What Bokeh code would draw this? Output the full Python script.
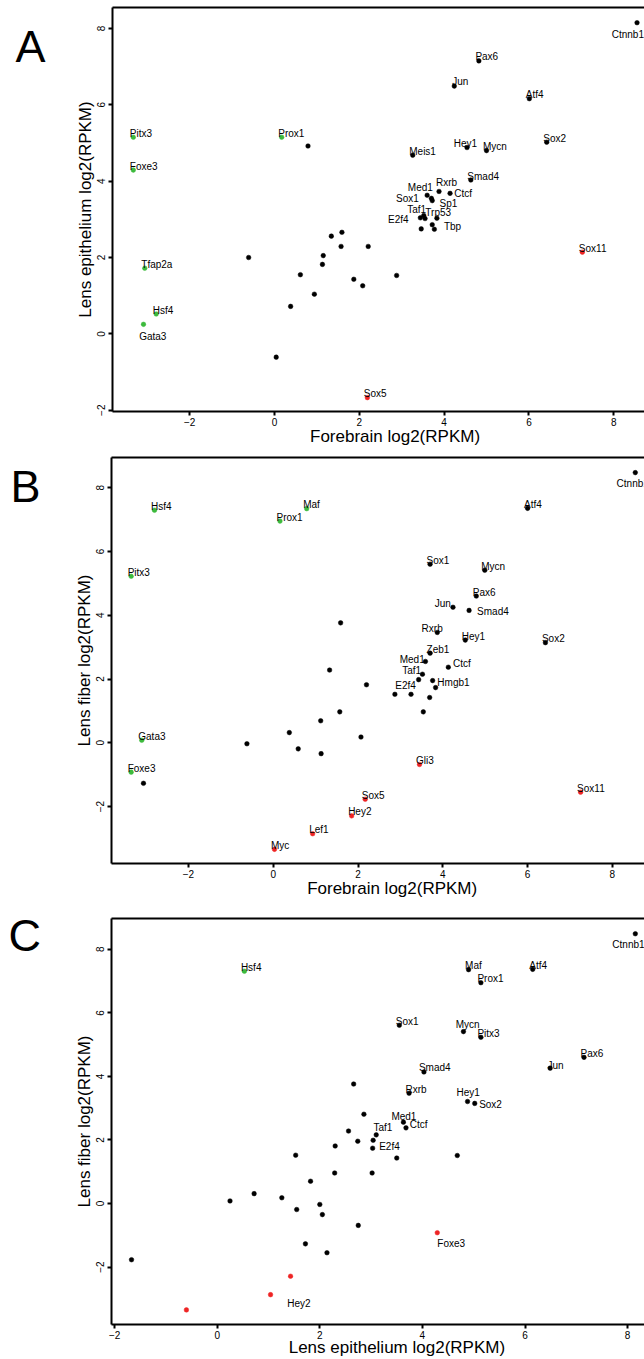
from bokeh.plotting import figure
from bokeh.models import Range1d, LinearAxis, FixedTicker, ColumnDataSource, Grid
from bokeh.layouts import column, row
from bokeh.embed import file_html
from bokeh.resources import INLINE
from bokeh.core.properties import value

# ---------------- data ----------------
# Panel A: Forebrain (x) vs Lens epithelium (y)
A_genes = ["Pitx3", "Foxe3", "Prox1", "Tfap2a", "Hsf4", "Gata3",
           "Sox11", "Sox5",
           "Ctnnb1", "Pax6", "Jun", "Atf4", "Sox2", "Hey1", "Mycn", "Meis1", "Smad4",
           "Rxrb", "Ctcf", "Med1", "Sox1", "Sp1", "Taf1", "E2f4", "Trp53", "Tbp",
           "", "", "", "", "", "", "", "", "", "", "", "", "", "", "", "", "", ""]
A_forebrain = [-3.33, -3.33, 0.17, -3.06, -2.79, -3.09,
               7.26, 2.19,
               8.55, 4.82, 4.24, 6.01, 6.42, 4.54, 5.00, 3.26, 4.63,
               3.88, 4.14, 3.60, 3.70, 3.72, 3.52, 3.44, 3.55, 3.83,
               0.79, -0.61, 1.15, 1.13, 0.61, 0.94, 0.38, 0.04, 1.34, 1.59, 1.57, 2.21,
               1.87, 2.08, 2.88, 3.72, 3.77, 3.46]
A_epithelium = [5.15, 4.29, 5.15, 1.72, 0.52, 0.25,
                2.14, -1.67,
                8.15, 7.15, 6.49, 6.16, 5.02, 4.88, 4.80, 4.68, 4.03,
                3.73, 3.68, 3.63, 3.55, 3.49, 3.10, 3.04, 3.02, 3.03,
                4.92, 2.00, 2.05, 1.82, 1.55, 1.04, 0.72, -0.61, 2.56, 2.66, 2.29, 2.29,
                1.43, 1.26, 1.53, 2.86, 2.74, 2.75]
A_group = ["lens"] * 6 + ["other"] * 2 + ["none"] * 36

# Panel B: Forebrain (x) vs Lens fiber (y)
B_genes = ["Hsf4", "Prox1", "Maf", "Pitx3", "Gata3", "Foxe3",
           "Myc", "Lef1", "Gli3", "Sox5", "Hey2", "Sox11",
           "Ctnnb1", "Atf4", "Sox1", "Mycn", "Pax6", "Jun", "Smad4", "Rxrb", "Hey1",
           "Sox2", "Zeb1", "Med1", "Ctcf", "Taf1", "E2f4", "Hmgb1",
           "", "", "", "", "", "", "", "", "", "", "", "", "", "", "", ""]
B_forebrain = [-2.80, 0.16, 0.79, -3.35, -3.10, -3.35,
               0.03, 0.93, 3.45, 2.17, 1.85, 7.25,
               8.54, 6.00, 3.70, 4.99, 4.79, 4.24, 4.62, 3.87, 4.53,
               6.42, 3.70, 3.59, 4.13, 3.52, 3.43, 3.76,
               -3.06, -0.62, 0.38, 0.59, 1.12, 1.13, 1.33, 2.20, 2.87, 3.25, 3.69, 3.54,
               1.57, 2.07, 3.83, 1.59]
B_fiber = [7.29, 6.95, 7.34, 5.22, 0.08, -0.92,
           -3.34, -2.85, -0.68, -1.77, -2.29, -1.55,
           8.47, 7.35, 5.60, 5.41, 4.60, 4.25, 4.15, 3.46, 3.22,
           3.14, 2.81, 2.55, 2.37, 2.15, 1.98, 1.95,
           -1.27, -0.03, 0.32, -0.19, 0.69, -0.34, 2.28, 1.82, 1.52, 1.52, 1.42, 0.97,
           0.97, 0.18, 1.73, 3.76]
B_group = ["lens"] * 6 + ["other"] * 6 + ["none"] * 32

# Panel C: Lens epithelium (x) vs Lens fiber (y)
C_genes = ["Hsf4",
           "Foxe3", "Hey2", "", "",
           "Ctnnb1", "Maf", "Atf4", "Prox1", "Sox1", "Mycn", "Pitx3", "Pax6", "Jun",
           "Smad4", "Rxrb", "Hey1", "Sox2", "Med1", "Ctcf", "Taf1", "E2f4",
           "", "", "", "", "", "", "", "", "", "", "", "", "", "", "", "", "", "", "", "", "", ""]
C_epithelium = [0.53,
                4.29, 1.43, 1.04, -0.60,
                8.15, 4.90, 6.15, 5.14, 3.55, 4.80, 5.14, 7.15, 6.49,
                4.03, 3.74, 4.88, 5.02, 3.63, 3.68, 3.10, 3.04,
                2.66, 2.86, 2.56, 2.74, 3.03, 2.30, 3.50, 4.68, 2.29, 3.02, 1.82, 2.00,
                2.05, 2.75, 1.72, 2.14, 1.53, 0.25, 0.72, 1.26, 1.55, -1.67]
C_fiber = [7.31,
           -0.92, -2.29, -2.87, -3.35,
           8.49, 7.36, 7.37, 6.95, 5.61, 5.41, 5.23, 4.60, 4.26,
           4.14, 3.47, 3.21, 3.15, 2.56, 2.38, 2.16, 1.99,
           3.76, 2.81, 2.28, 1.96, 1.74, 1.81, 1.43, 1.51, 0.96, 0.96, 0.70, -0.03,
           -0.35, -0.69, -1.27, -1.55, 1.52, 0.08, 0.31, 0.18, -0.19, -1.77]
C_group = ["lens"] + ["other"] * 4 + ["none"] * 39

TICKS = [-2, 0, 2, 4, 6, 8]

# ---------------- styles ----------------
FONT = "Liberation Sans"
COLORS = {"lens": "#3dba3d", "other": "#ee2424", "none": "#000000"}
DEFAULT_OFF = (-3.5, -3.3)
DY_SHIFT = -0.7
LETTER_W = 55
NBSP = "\u00a0"

A_off = {"Gata3": (-4.3, 12.7), "Ctnnb1": (-25.3, 12.2), "Hey1": (-13.3, -3.7),
         "Rxrb": (-3, -8.7), "Ctcf": (4.3, 0.6), "Med1": (-19.3, -7), "Sox1": (-35.3, 0.7),
         "Sp1": (7.3, 3.3), "Taf1": (-16.6, -5.7), "E2f4": (-32.3, 2), "Trp53": (0.3, -5.3),
         "Tbp": (7, 9), "Jun": (-2, -3.7)}
B_off = {"Ctnnb1": (-18.7, 11.3), "Jun": (-18.3, -3), "Smad4": (8, 1.7), "Rxrb": (-15.7, -3.3),
         "Med1": (-25.7, -1.7), "Ctcf": (4.7, -3), "Taf1": (-20.3, -3), "E2f4": (-23.3, 7),
         "Hmgb1": (4.7, 2.7)}
C_off = {"Ctnnb1": (-23, 11), "Mycn": (-7.7, -6.3), "Smad4": (-5, -3.4), "Hey1": (-11, -8.3),
         "Sox2": (4.4, 2), "Med1": (-12, -5), "Ctcf": (3.7, -2.7), "Taf1": (-2.7, -6.7),
         "E2f4": (6, 7.4), "Foxe3": (0, 11), "Hey2": (-3.3, 27.6), "Jun": (-2.7, -2.3)}


def letter_fig(letter, height, lx, ly):
    # a small canvas beside the panel that only carries the panel letter
    f = figure(width=LETTER_W, height=height, x_range=Range1d(0, LETTER_W),
               y_range=Range1d(height, 0), output_backend="svg", toolbar_location=None,
               x_axis_location=None, y_axis_location=None,
               min_border=0, min_border_left=0, min_border_right=0,
               min_border_top=0, min_border_bottom=0)
    f.outline_line_color = None
    for r in f.center:
        if isinstance(r, Grid):
            r.visible = False
    f.text(x=[lx], y=[ly], text=[letter], text_font=value(FONT), text_font_size="45px",
           text_color="black", text_align="left", text_baseline="alphabetic")
    return f


def make_panel(letter, genes, xs, ys, groups, offs, xr, yr, page_top, height, ftop, fbot, fleft,
               xtitle, ytitle, letter_px, xlab_standoff, xlab_pad):
    p = figure(width=644 - LETTER_W, height=height, x_range=Range1d(*xr), y_range=Range1d(*yr),
               output_backend="svg", toolbar_location=None,
               x_axis_location=None, y_axis_location=None,
               min_border_left=fleft - LETTER_W, min_border_right=0,
               min_border_top=ftop - page_top, min_border_bottom=page_top + height - fbot)
    p.outline_line_color = None
    for r in p.center:
        if isinstance(r, Grid):
            r.visible = False

    def ax(**kw):
        a = LinearAxis(**kw)
        a.axis_line_width = 2
        a.axis_line_color = "black"
        a.major_tick_line_width = 2
        a.major_tick_in = 0
        a.major_tick_out = 4
        a.minor_tick_in = 0
        a.minor_tick_out = 0
        a.major_label_text_font = FONT
        a.major_label_text_font_size = "10px"
        a.major_label_text_color = "black"
        a.axis_label_text_font = FONT
        a.axis_label_text_font_size = "17px"
        a.axis_label_text_font_style = "normal"
        a.axis_label_text_color = "black"
        return a

    # the original plot box runs past the right edge of the page, so its
    # centred x title sits right of this frame's centre: pad it on the left
    xa = ax(ticker=FixedTicker(ticks=TICKS), axis_label=NBSP * xlab_pad + xtitle)
    xa.major_label_standoff = 2
    xa.axis_label_standoff = xlab_standoff
    p.add_layout(xa, "below")
    ya = ax(ticker=FixedTicker(ticks=TICKS), axis_label=ytitle)
    ya.major_label_orientation = "parallel"
    ya.major_label_standoff = 3
    ya.axis_label_standoff = 0
    p.add_layout(ya, "left")
    ta = ax(ticker=FixedTicker(ticks=[]))
    ta.major_tick_out = 0
    ta.major_label_standoff = 0
    ta.major_label_text_font_size = "0px"
    p.add_layout(ta, "above")

    src = ColumnDataSource(dict(
        x=xs, y=ys, name=genes,
        color=[COLORS[g] for g in groups],
        dx=[offs.get(n, DEFAULT_OFF)[0] for n in genes],
        dy=[offs.get(n, DEFAULT_OFF)[1] + DY_SHIFT for n in genes],
    ))
    p.scatter("x", "y", source=src, size=4.6, fill_color="color", line_color="color",
              line_width=0.5)
    p.text("x", "y", text="name", x_offset="dx", y_offset="dy", source=src,
           text_font=value(FONT), text_font_size="10px", text_color="black",
           text_align="left", text_baseline="alphabetic")

    lf = letter_fig(letter, height, letter_px[0], letter_px[1] - page_top)
    return row(lf, p, spacing=0)


pA = make_panel("A", A_genes, A_forebrain, A_epithelium, A_group, A_off,
                (-3.821, 8.726), (-2.033, 8.548), 0, 448, 7, 413, 112,
                "Forebrain log2(RPKM)", "Lens epithelium log2(RPKM)", (15, 43), -2, 7)
pB = make_panel("B", B_genes, B_forebrain, B_fiber, B_group, B_off,
                (-3.814, 8.757), (-3.784, 8.944), 448, 458, 457, 863, 111,
                "Forebrain log2(RPKM)", "Lens fiber log2(RPKM)", (10, 481), -2, 6)
pC = make_panel("C", C_genes, C_epithelium, C_fiber, C_group, C_off,
                (-2.060, 8.329), (-3.809, 8.970), 906, 453, 918, 1325, 111,
                "Lens epithelium log2(RPKM)", "Lens fiber log2(RPKM)", (8, 925), -4, 8)

layout = column(pA, pB, pC, spacing=0)
open("out.html", "w").write(file_html(layout, INLINE))
